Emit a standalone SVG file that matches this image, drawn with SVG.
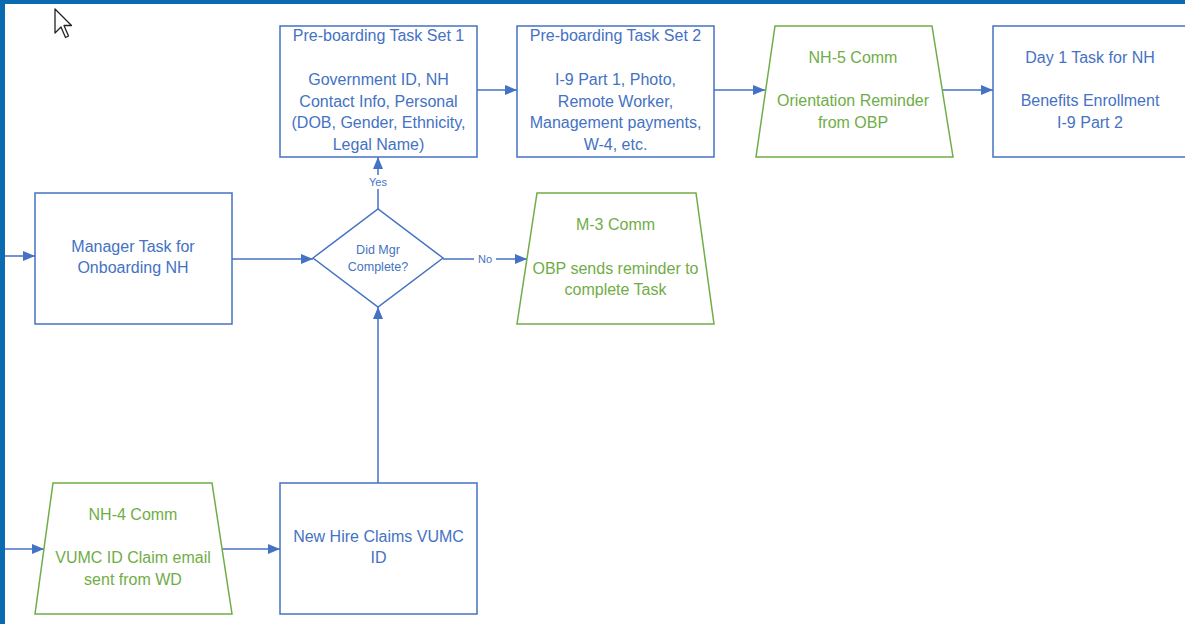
<svg xmlns="http://www.w3.org/2000/svg" width="1185" height="624" viewBox="0 0 1185 624">
<defs>
<style>
.box{fill:#fff;stroke:#4472c4;stroke-width:1.5}
.trap{fill:#fff;stroke:#70ad47;stroke-width:1.5}
.t{font-family:"Liberation Sans",Arial,sans-serif;font-size:16px;text-anchor:middle;fill:#4472c4}
.g{fill:#70ad47}
.edge{fill:none;stroke:#4472c4;stroke-width:1.5}
.lbl{font-family:"Liberation Sans",Arial,sans-serif;font-size:11px;text-anchor:middle;fill:#4472c4}
</style>
<marker id="ah" viewBox="0 0 12 10" refX="12" refY="5" markerWidth="12" markerHeight="10" markerUnits="userSpaceOnUse" orient="auto">
<path d="M0,0 L12,5 L0,10 z" fill="#4472c4"/>
</marker>
</defs>
<rect x="0" y="0" width="1185" height="624" fill="#fff"/>
<rect x="0" y="0" width="1185" height="4" fill="#0b6bb0"/>
<rect x="0" y="0" width="5" height="624" fill="#0b6bb0"/>
<path d="M55,9 L55,33 L61,27 L65.5,37.5 L68.5,36 L64,25.5 L71.5,25.5 Z" fill="#fff" stroke="#222" stroke-width="1.3" stroke-linejoin="round"/>

<g id="connectors">
<line class="edge" x1="477" y1="90" x2="517" y2="90" marker-end="url(#ah)"/>
<line class="edge" x1="714" y1="90" x2="765" y2="90" marker-end="url(#ah)"/>
<line class="edge" x1="942" y1="90" x2="993" y2="90" marker-end="url(#ah)"/>
<line class="edge" x1="5" y1="256" x2="35" y2="256" marker-end="url(#ah)"/>
<line class="edge" x1="232" y1="259" x2="313" y2="259" marker-end="url(#ah)"/>
<line class="edge" x1="378" y1="209" x2="378" y2="157" marker-end="url(#ah)"/>
<rect x="364" y="175" width="28" height="14" fill="#fff"/>
<text class="lbl" x="378" y="186">Yes</text>
<line class="edge" x1="443" y1="259" x2="527" y2="259" marker-end="url(#ah)"/>
<rect x="474" y="252" width="22" height="14" fill="#fff"/>
<text class="lbl" x="485" y="263">No</text>
<line class="edge" x1="5" y1="549" x2="44" y2="549" marker-end="url(#ah)"/>
<line class="edge" x1="222" y1="549" x2="280" y2="549" marker-end="url(#ah)"/>
<line class="edge" x1="378" y1="483" x2="378" y2="307" marker-end="url(#ah)"/>
</g>

<g id="preboard1">
<rect class="box" x="280" y="26" width="197" height="131"/>
<text class="t" x="378.5" y="41">Pre-boarding Task Set 1</text>
<text class="t" x="378.5" y="85">Government ID, NH</text>
<text class="t" x="378.5" y="107">Contact Info, Personal</text>
<text class="t" x="378.5" y="128">(DOB, Gender, Ethnicity,</text>
<text class="t" x="378.5" y="150">Legal Name)</text>
</g>

<g id="preboard2">
<rect class="box" x="517" y="26" width="197" height="131"/>
<text class="t" x="615.5" y="41">Pre-boarding Task Set 2</text>
<text class="t" x="615.5" y="85">I-9 Part 1, Photo,</text>
<text class="t" x="615.5" y="107">Remote Worker,</text>
<text class="t" x="615.5" y="128">Management payments,</text>
<text class="t" x="615.5" y="150">W-4, etc.</text>
</g>

<g id="nh5">
<polygon class="trap" points="775,26 932,26 953,157 756,157"/>
<text class="t g" x="853" y="63">NH-5 Comm</text>
<text class="t g" x="853" y="106">Orientation Reminder</text>
<text class="t g" x="853" y="128">from OBP</text>
</g>

<g id="day1">
<rect class="box" x="993" y="26" width="196" height="131"/>
<text class="t" x="1090" y="63">Day 1 Task for NH</text>
<text class="t" x="1090" y="106">Benefits Enrollment</text>
<text class="t" x="1090" y="128">I-9 Part 2</text>
</g>

<g id="manager">
<rect class="box" x="35" y="193" width="197" height="131"/>
<text class="t" x="133" y="252">Manager Task for</text>
<text class="t" x="133" y="273">Onboarding NH</text>
</g>

<g id="decision">
<polygon class="box" points="313,258 378,209 443,258 378,307"/>
<text class="t" x="378" y="254" style="font-size:12.5px">Did Mgr</text>
<text class="t" x="378" y="271" style="font-size:12.5px">Complete?</text>
</g>

<g id="m3">
<polygon class="trap" points="537,193 696,193 714,324 517,324"/>
<text class="t g" x="615.5" y="230">M-3 Comm</text>
<text class="t g" x="615.5" y="274">OBP sends reminder to</text>
<text class="t g" x="615.5" y="295">complete Task</text>
</g>

<g id="nh4">
<polygon class="trap" points="53,483 212,483 232,614 35,614"/>
<text class="t g" x="133" y="520">NH-4 Comm</text>
<text class="t g" x="133" y="563">VUMC ID Claim email</text>
<text class="t g" x="133" y="585">sent from WD</text>
</g>

<g id="newhire">
<rect class="box" x="280" y="483" width="197" height="131"/>
<text class="t" x="378.5" y="542">New Hire Claims VUMC</text>
<text class="t" x="378.5" y="563">ID</text>
</g>
</svg>
